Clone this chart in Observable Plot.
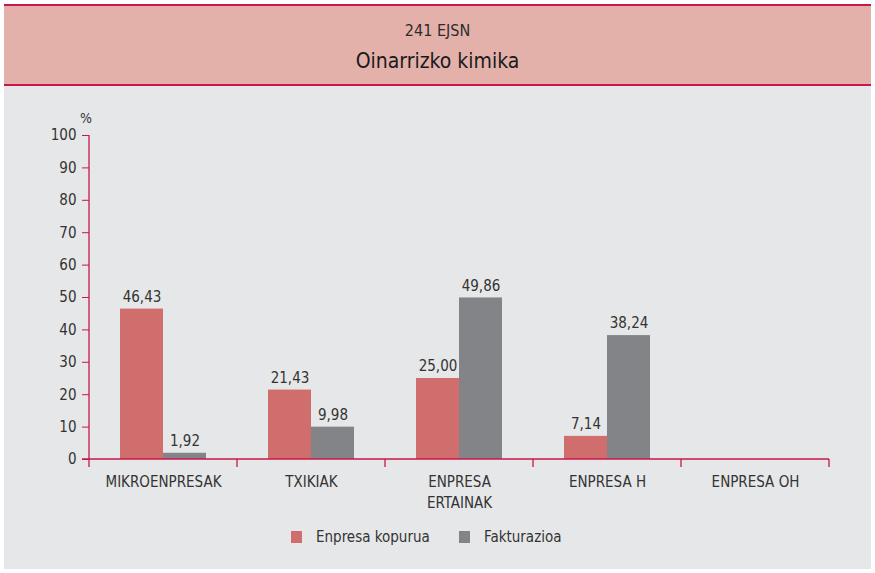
<!DOCTYPE html>
<html>
<head>
<meta charset="utf-8">
<script src="https://cdn.jsdelivr.net/npm/d3@7"></script>
<script src="https://cdn.jsdelivr.net/npm/@observablehq/plot@0.6"></script>
<style>
  html, body { margin: 0; padding: 0; background: #ffffff; }
  body { width: 875px; height: 573px; position: relative; overflow: hidden;
         font-family: "Liberation Sans Narrow", "DejaVu Sans Condensed", "Roboto", sans-serif; }
  #panel { position: absolute; left: 4px; top: 4px; width: 867px; height: 565px; background: #e6e7e9; }
  #header { position: absolute; left: 4px; top: 4px; width: 867px; height: 82px; background: #e4b1aa;
            border-top: 2px solid #c8174a; border-bottom: 2px solid #c8174a; box-sizing: border-box; }
  #sub { position: absolute; left: 0; width: 100%; top: 15px; text-align: center; font-size: 16px; color: #2b2b2b; }
  #title { position: absolute; left: 0; width: 100%; top: 43px; text-align: center; font-size: 21px; color: #1a1a1a; }
  #chart { position: absolute; left: 0; top: 90px; }
  #pct { position: absolute; left: 80px; top: 110px; font-size: 14px; color: #333; }
  #legend { position: absolute; left: 0; width: 875px; top: 528px; font-size: 15px; color: #333; }
  .li { position: absolute; top: 0; white-space: nowrap; }
  .sw { display: inline-block; width: 11px; height: 12px; vertical-align: -1px; margin-right: 14px; }
</style>
</head>
<body>
<div id="panel"></div>
<div id="header"><div id="sub"></div><div id="title"></div></div>
<div id="pct">%</div>
<div id="chart"></div>
<div id="legend"></div>
<script>
const subtitle = "241 EJSN";
const title = "Oinarrizko kimika";
const categories = ["MIKROENPRESAK", "TXIKIAK", "ENPRESA\nERTAINAK", "ENPRESA H", "ENPRESA OH"];
const series = ["Enpresa kopurua", "Fakturazioa"];
const enpresaKopurua = [46.43, 21.43, 25.00, 7.14, null];
const fakturazioa = [1.92, 9.98, 49.86, 38.24, null];
const yTicks = [0, 10, 20, 30, 40, 50, 60, 70, 80, 90, 100];
const colors = ["#cf6e6c", "#838488"];
const axisColor = "#c8174a";
const textColor = "#333";
const font = '"Liberation Sans Narrow", "DejaVu Sans Condensed", "Roboto", sans-serif';

document.getElementById("sub").textContent = subtitle;
document.getElementById("title").textContent = title;

const rows = [];
categories.forEach((c, i) => {
  [enpresaKopurua, fakturazioa].forEach((arr, j) => {
    if (arr[i] != null) rows.push({cat: c, series: series[j], value: arr[i]});
  });
});
const fmt = v => v.toFixed(2).replace(".", ",");

const plot = Plot.plot({
  width: 875, height: 420,
  marginLeft: 87, marginRight: 44, marginTop: 45, marginBottom: 51,
  style: {background: "transparent", fontFamily: font, fontSize: "15px", color: textColor, overflow: "visible"},
  fx: {domain: categories, paddingInner: 0, paddingOuter: 0, label: null},
  x: {domain: series, paddingInner: 0, paddingOuter: 0.71, axis: null},
  y: {domain: [0, 100], label: null},
  color: {domain: series, range: colors},
  marks: [
    Plot.axisY({ticks: yTicks, tickSize: 7, stroke: axisColor, tickPadding: 6, fill: textColor, label: null, fontSize: 15}),
    Plot.axisFx({anchor: "bottom", tickSize: 0, tickPadding: 13, label: null, fill: textColor, lineHeight: 1.4, fontSize: 15}),
    Plot.barY(rows, {fx: "cat", x: "series", y: "value", fill: "series"}),
    Plot.text(rows, {fx: "cat", x: "series", y: "value", text: d => fmt(d.value), dy: -12, fill: textColor, fontSize: 15})
  ]
});

// axis lines drawn through the plot's own scales
const yS = plot.scale("y"), fxS = plot.scale("fx");
const svg = d3.select(plot);
const y0 = yS.apply(0), y100 = yS.apply(100);
const xLeft = fxS.apply(categories[0]);
const xRight = fxS.apply(categories[categories.length - 1]) + fxS.bandwidth;
const g = svg.append("g").attr("stroke", axisColor).attr("stroke-width", 1.3);
g.append("line").attr("x1", xLeft).attr("x2", xLeft).attr("y1", y100).attr("y2", y0 + 8);
g.append("line").attr("x1", xLeft - 7).attr("x2", xRight).attr("y1", y0).attr("y2", y0);
categories.forEach((c, i) => {
  const x = fxS.apply(c) + fxS.bandwidth;
  g.append("line").attr("x1", x).attr("x2", x).attr("y1", y0).attr("y2", y0 + 8);
});
document.getElementById("chart").appendChild(plot);

// legend
const leg = document.getElementById("legend");
const legX = [291, 459];
series.forEach((s, i) => {
  const d = document.createElement("div");
  d.className = "li";
  d.style.left = legX[i] + "px";
  d.innerHTML = `<span class="sw" style="background:${colors[i]}"></span>${s}`;
  leg.appendChild(d);
});
</script>
</body>
</html>
